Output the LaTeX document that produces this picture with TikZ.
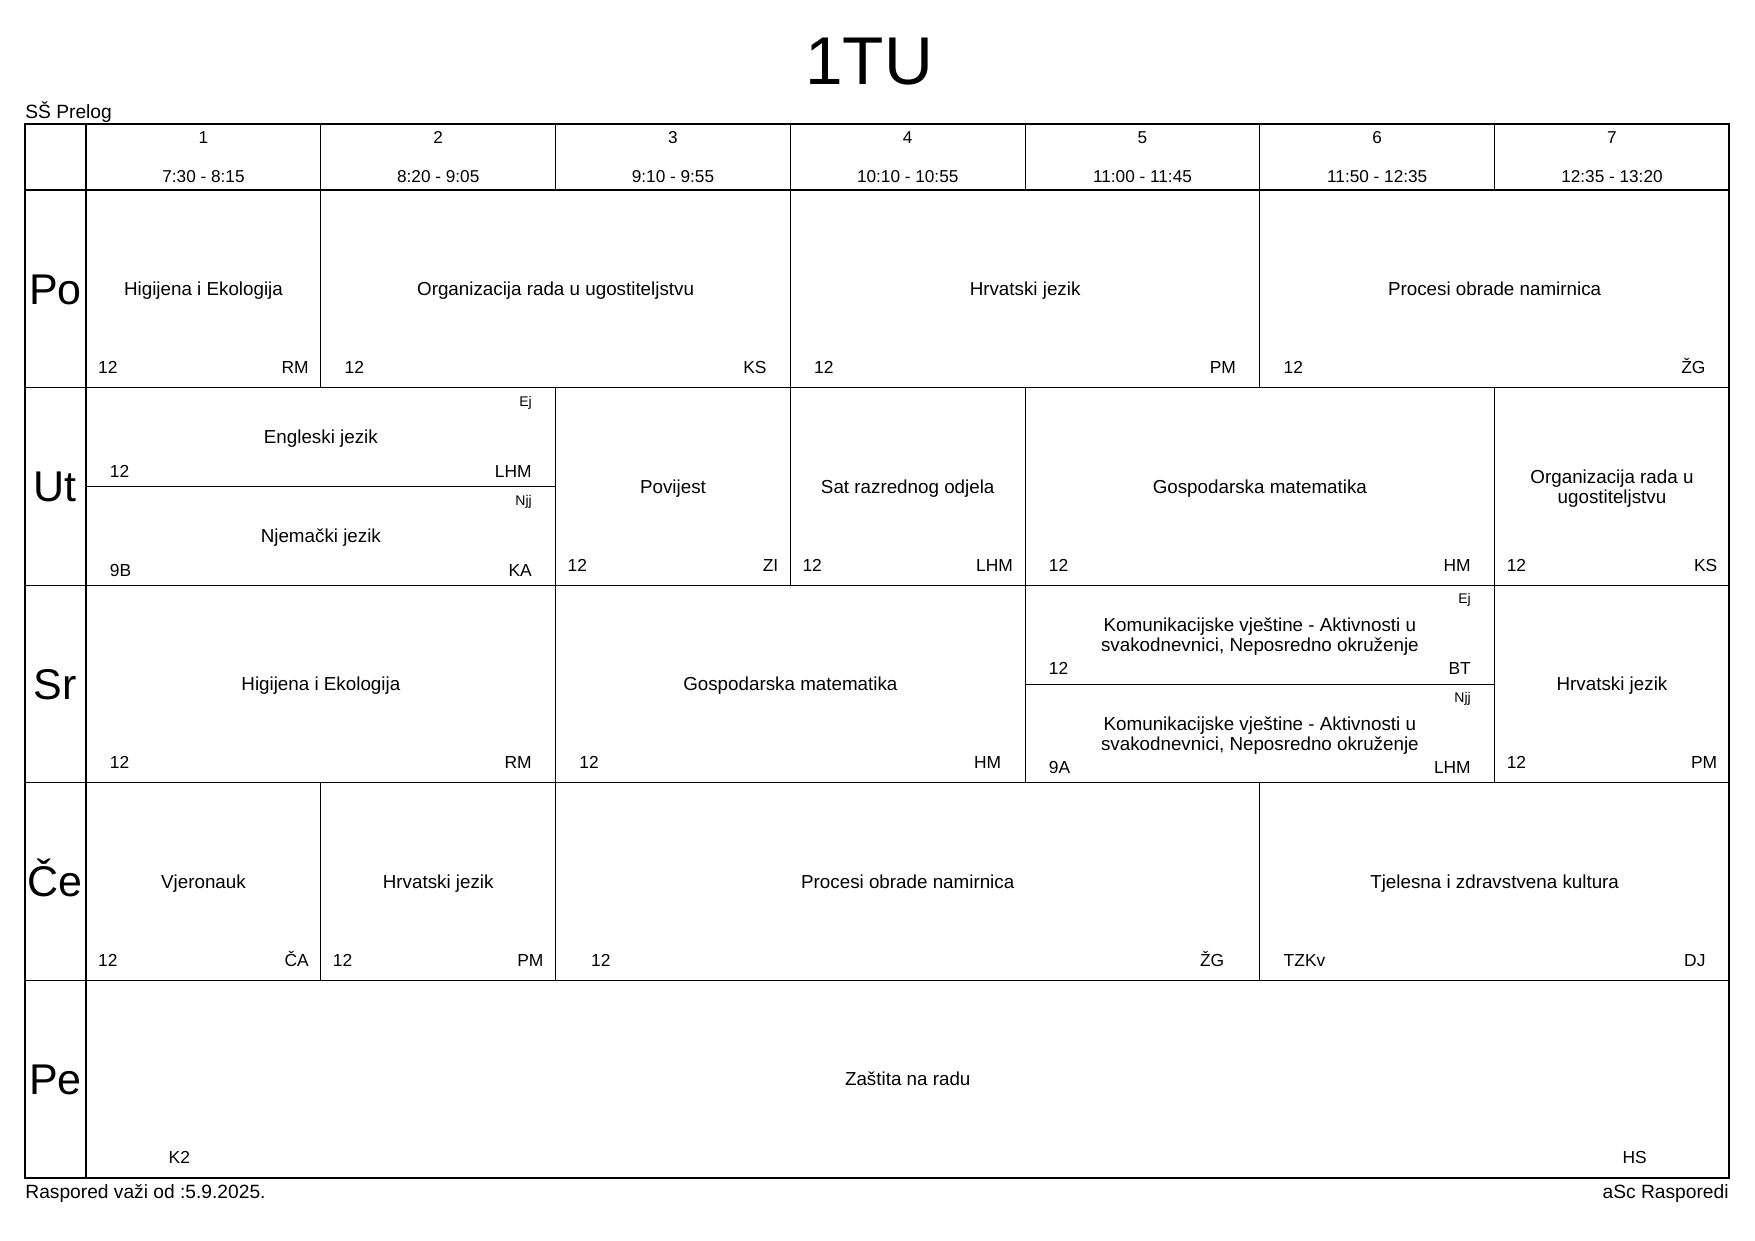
\documentclass[tikz,border=0pt]{standalone}
\usepackage{fontspec}
\setmainfont{Liberation Sans}
\tikzset{
  subj/.style={font=\fontsize{9.4}{9.9}\selectfont, align=center, inner sep=0pt, anchor=base},
  twoline/.style={anchor=center, yshift=2.4pt},
  lab/.style={font=\fontsize{8.7}{10}\selectfont, inner sep=0pt},
  tinylabel/.style={font=\fontsize{7}{8}\selectfont, inner sep=0pt, anchor=base east},
  hdr/.style={font=\fontsize{8.6}{10}\selectfont, inner sep=0pt, anchor=base},
  daylabel/.style={font=\fontsize{21.5}{24}\selectfont, inner sep=0pt, anchor=base},
  gridline/.style={line width=0.5pt, black},
  frameline/.style={line width=0.9pt, black},
  plain/.style={font=\fontsize{9.6}{11}\selectfont, inner sep=0pt},
}
% [#1] extra subject style, #2 name, #3 first column, #4 span, #5 top, #6 bottom, #7 subject, #8 left, #9 right
\newcommand{\lesson}[9][]{%
  \pgfmathsetmacro\lxa{86.1+234.75*#3}%
  \pgfmathsetmacro\lxb{\lxa+234.75*#4}%
  \pgfmathsetmacro\lpad{11.74*#4}%
  \pgfmathsetmacro\loff{((#6)-(#5))<150 ? 9.3 : 14}%
  \draw[gridline] (\lxa,#5) rectangle (\lxb,#6);%
  \node[subj,#1] (#2) at ({(\lxa+\lxb)/2},{(#5+#6)/2+6.7}) {#7};%
  \node[lab,anchor=base west] (#2-l) at ({\lxa+\lpad},{#6-\loff}) {#8};%
  \node[lab,anchor=base east] (#2-r) at ({\lxb-\lpad},{#6-\loff}) {#9};%
}
\newcommand{\tinylab}[5]{%
  \pgfmathsetmacro\lxb{86.1+234.75*(#2+#3)}%
  \pgfmathsetmacro\lpad{11.74*#3}%
  \node[tinylabel] (#1) at ({\lxb-\lpad},{#4+18.5}) {#5};%
}
\begin{document}
\begin{tikzpicture}[x=0.5pt,y=-0.5pt]
\useasboundingbox (0,0) rectangle (1755,1241);
\fill[white] (0,0) rectangle (1755,1241);

% title and captions
\node[font=\fontsize{33.8}{40}\selectfont, inner sep=0pt, anchor=base] (title) at (869,85) {1TU};
\node[plain, anchor=base west] (school) at (25,118.8) {SŠ Prelog};
\node[plain, anchor=base west] (valid) at (25,1198) {Raspored važi od :5.9.2025.};
\node[plain, anchor=base east] (brand) at (1729,1198) {aSc Rasporedi};

% header
\foreach \k/\t in {1/{7:30 - 8:15},2/{8:20 - 9:05},3/{9:10 - 9:55},4/{10:10 - 10:55},5/{11:00 - 11:45},6/{11:50 - 12:35},7/{12:35 - 13:20}}{
  \pgfmathsetmacro\hx{86.1+234.75*(\k-0.5)}
  \node[hdr] (hn\k) at (\hx,143.7) {\k};
  \node[hdr] (ht\k) at (\hx,182.7) {\t};
}
\foreach \k in {1,...,6}{
  \draw[gridline] ({86.1+234.75*\k},124.2) -- ({86.1+234.75*\k},190.2);
}

% day labels
\foreach \d/\n [count=\i from 0] in {Po/po,Ut/ut,Sr/sr,Če/ce,Pe/pe}{
  \node[daylabel] (d\n) at (55.35,{190.2+197.55*(\i+0.5)+15.2}) {\d};
}
\foreach \k in {1,...,4}{
  \draw[gridline] (24.6,{190.2+197.55*\k}) -- (86.1,{190.2+197.55*\k});
}

% Po
\lesson{po1}{0}{1}{190.2}{387.75}{Higijena i Ekologija}{12}{RM}
\lesson{po2}{1}{2}{190.2}{387.75}{Organizacija rada u ugostiteljstvu}{12}{KS}
\lesson{po3}{3}{2}{190.2}{387.75}{Hrvatski jezik}{12}{PM}
\lesson{po4}{5}{2}{190.2}{387.75}{Procesi obrade namirnica}{12}{ŽG}
% Ut
\lesson{ut1a}{0}{2}{387.75}{486.5}{Engleski jezik}{12}{LHM}
\tinylab{ut1a-g}{0}{2}{387.75}{Ej}
\lesson{ut1b}{0}{2}{486.5}{585.3}{Njemački jezik}{9B}{KA}
\tinylab{ut1b-g}{0}{2}{486.5}{Njj}
\lesson{ut2}{2}{1}{387.75}{585.3}{Povijest}{12}{ZI}
\lesson{ut3}{3}{1}{387.75}{585.3}{Sat razrednog odjela}{12}{LHM}
\lesson{ut4}{4}{2}{387.75}{585.3}{Gospodarska matematika}{12}{HM}
\lesson[twoline]{ut5}{6}{1}{387.75}{585.3}{Organizacija rada u\\ugostiteljstvu}{12}{KS}
% Sr
\lesson{sr1}{0}{2}{585.3}{782.85}{Higijena i Ekologija}{12}{RM}
\lesson{sr2}{2}{2}{585.3}{782.85}{Gospodarska matematika}{12}{HM}
\lesson[twoline]{sr3a}{4}{2}{585.3}{684.1}{Komunikacijske vještine - Aktivnosti u\\svakodnevnici, Neposredno okruženje}{12}{BT}
\tinylab{sr3a-g}{4}{2}{585.3}{Ej}
\lesson[twoline]{sr3b}{4}{2}{684.1}{782.85}{Komunikacijske vještine - Aktivnosti u\\svakodnevnici, Neposredno okruženje}{9A}{LHM}
\tinylab{sr3b-g}{4}{2}{684.1}{Njj}
\lesson{sr4}{6}{1}{585.3}{782.85}{Hrvatski jezik}{12}{PM}
% Ce
\lesson{ce1}{0}{1}{782.85}{980.4}{Vjeronauk}{12}{ČA}
\lesson{ce2}{1}{1}{782.85}{980.4}{Hrvatski jezik}{12}{PM}
\lesson{ce3}{2}{3}{782.85}{980.4}{Procesi obrade namirnica}{12}{ŽG}
\lesson{ce4}{5}{2}{782.85}{980.4}{Tjelesna i zdravstvena kultura}{TZKv}{DJ}
% Pe
\lesson{pe1}{0}{7}{980.4}{1177.95}{Zaštita na radu}{K2}{HS}

% heavy frame
\draw[frameline] (24.6,124.2) rectangle (1729.35,1177.95);
\draw[frameline] (24.6,190.2) -- (1729.35,190.2);
\draw[frameline] (86.1,124.2) -- (86.1,1177.95);
\end{tikzpicture}
\end{document}
